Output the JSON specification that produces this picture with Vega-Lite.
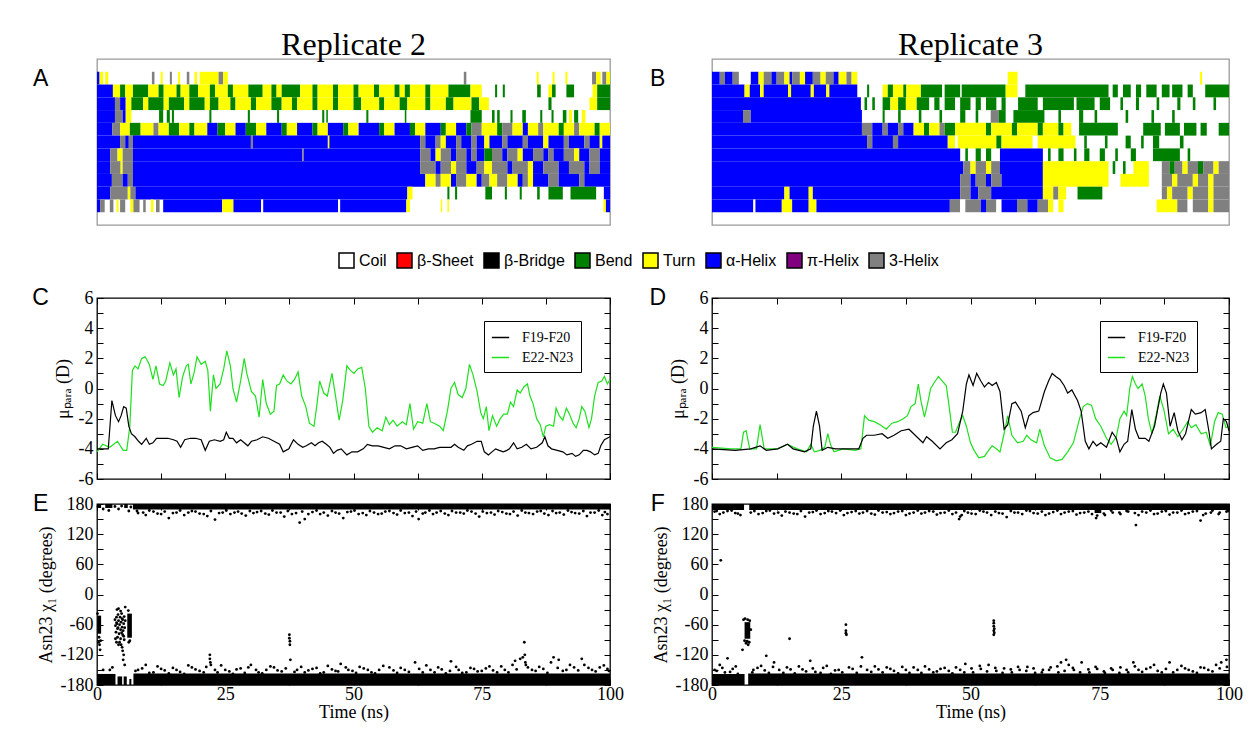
{
"$schema":"https://vega.github.io/schema/vega-lite/v6.json",
"background":"white",
"padding":{"left":31,"top":28,"right":5,"bottom":5},
"config":{
 "view":{"stroke":"black","strokeWidth":1.3},
 "axis":{"domain":false,"grid":false,"labelFont":"Liberation Serif","labelFontSize":18,"labelColor":"black","titleFont":"Liberation Serif","titleFontSize":18,"titleFontWeight":"normal","titleColor":"black","tickColor":"black","tickWidth":1,"labelOverlap":false,"labelFlush":false,"labelBound":false}
},
"datasets":{
"ss2":[
{"r":26,"a":0,"b":0.5,"s":"H"},{"r":26,"a":0.5,"b":1.2,"s":"T"},{"r":26,"a":1.6,"b":2.2,"s":"T"},{"r":26,"a":10.7,"b":11.2,"s":"G"},{"r":26,"a":12.4,"b":12.8,"s":"T"},{"r":26,"a":14.2,"b":14.6,"s":"G"},{"r":26,"a":15.8,"b":16.2,"s":"T"},{"r":26,"a":17.5,"b":18,"s":"G"},{"r":26,"a":19,"b":19.5,"s":"T"},{"r":26,"a":20,"b":23.7,"s":"T"},{"r":26,"a":23.7,"b":24.6,"s":"G"},{"r":26,"a":24.6,"b":25.5,"s":"T"},{"r":26,"a":71.5,"b":72,"s":"G"},{"r":26,"a":85.7,"b":86.1,"s":"T"},{"r":26,"a":88.8,"b":89.2,"s":"T"},{"r":26,"a":91.3,"b":91.7,"s":"T"},{"r":26,"a":96.5,"b":97.3,"s":"G"},{"r":26,"a":97.3,"b":98.2,"s":"T"},{"r":26,"a":98.5,"b":99.3,"s":"G"},{"r":26,"a":99.3,"b":100,"s":"T"},
{"r":25,"a":0,"b":3.1,"s":"H"},{"r":25,"a":3.1,"b":4.5,"s":"T"},{"r":25,"a":4.5,"b":5.5,"s":"S"},{"r":25,"a":5.5,"b":7,"s":"T"},{"r":25,"a":7,"b":10,"s":"S"},{"r":25,"a":10,"b":12,"s":"T"},{"r":25,"a":12,"b":13,"s":"S"},{"r":25,"a":13,"b":15.5,"s":"T"},{"r":25,"a":15.5,"b":16.3,"s":"S"},{"r":25,"a":16.3,"b":18,"s":"T"},{"r":25,"a":18,"b":19.7,"s":"S"},{"r":25,"a":19.7,"b":22,"s":"T"},{"r":25,"a":22,"b":23,"s":"S"},{"r":25,"a":23,"b":25.5,"s":"T"},{"r":25,"a":25.5,"b":26.5,"s":"S"},{"r":25,"a":26.5,"b":29.5,"s":"T"},{"r":25,"a":29.5,"b":32.3,"s":"S"},{"r":25,"a":32.3,"b":34,"s":"T"},{"r":25,"a":34,"b":35,"s":"S"},{"r":25,"a":35,"b":36,"s":"T"},{"r":25,"a":36,"b":39.6,"s":"S"},{"r":25,"a":39.6,"b":42,"s":"T"},{"r":25,"a":42,"b":43,"s":"S"},{"r":25,"a":43,"b":46,"s":"T"},{"r":25,"a":46,"b":47,"s":"S"},{"r":25,"a":47,"b":50,"s":"T"},{"r":25,"a":50,"b":51,"s":"S"},{"r":25,"a":51,"b":54,"s":"T"},{"r":25,"a":54,"b":55,"s":"S"},{"r":25,"a":55,"b":58,"s":"T"},{"r":25,"a":58,"b":59,"s":"S"},{"r":25,"a":59,"b":60,"s":"T"},{"r":25,"a":60,"b":61,"s":"S"},{"r":25,"a":61,"b":64,"s":"T"},{"r":25,"a":64,"b":65,"s":"S"},{"r":25,"a":65,"b":68.5,"s":"T"},{"r":25,"a":68.5,"b":72.8,"s":"S"},{"r":25,"a":72.8,"b":75,"s":"T"},{"r":25,"a":77.6,"b":78,"s":"S"},{"r":25,"a":79.1,"b":79.5,"s":"S"},{"r":25,"a":85.8,"b":86.5,"s":"S"},{"r":25,"a":88,"b":88.7,"s":"T"},{"r":25,"a":88.7,"b":89.4,"s":"S"},{"r":25,"a":91.5,"b":93,"s":"S"},{"r":25,"a":96.6,"b":97.5,"s":"T"},{"r":25,"a":97.5,"b":100,"s":"S"},
{"r":24,"a":0,"b":3.5,"s":"H"},{"r":24,"a":3.5,"b":4.5,"s":"G"},{"r":24,"a":4.5,"b":5.6,"s":"H"},{"r":24,"a":5.6,"b":6.7,"s":"T"},{"r":24,"a":6.7,"b":9,"s":"S"},{"r":24,"a":9,"b":10,"s":"T"},{"r":24,"a":10,"b":13,"s":"S"},{"r":24,"a":13,"b":14,"s":"T"},{"r":24,"a":14,"b":17,"s":"S"},{"r":24,"a":17,"b":18,"s":"T"},{"r":24,"a":18,"b":21,"s":"S"},{"r":24,"a":21,"b":22,"s":"T"},{"r":24,"a":22,"b":23.7,"s":"S"},{"r":24,"a":23.7,"b":26,"s":"T"},{"r":24,"a":26,"b":27,"s":"S"},{"r":24,"a":27,"b":30,"s":"T"},{"r":24,"a":30,"b":31,"s":"S"},{"r":24,"a":31,"b":34,"s":"T"},{"r":24,"a":34,"b":36,"s":"S"},{"r":24,"a":36,"b":38,"s":"T"},{"r":24,"a":38,"b":39,"s":"S"},{"r":24,"a":39,"b":42,"s":"T"},{"r":24,"a":42,"b":43,"s":"S"},{"r":24,"a":43,"b":46,"s":"T"},{"r":24,"a":46,"b":47,"s":"S"},{"r":24,"a":47,"b":50,"s":"T"},{"r":24,"a":50,"b":51.5,"s":"S"},{"r":24,"a":51.5,"b":55,"s":"T"},{"r":24,"a":55,"b":56,"s":"S"},{"r":24,"a":56,"b":59,"s":"T"},{"r":24,"a":59,"b":60.5,"s":"S"},{"r":24,"a":60.5,"b":64,"s":"T"},{"r":24,"a":64,"b":65,"s":"S"},{"r":24,"a":65,"b":68,"s":"T"},{"r":24,"a":68,"b":69.5,"s":"S"},{"r":24,"a":69.5,"b":73,"s":"T"},{"r":24,"a":73,"b":74.5,"s":"S"},{"r":24,"a":74.5,"b":76.4,"s":"T"},{"r":24,"a":88,"b":88.6,"s":"S"},{"r":24,"a":96,"b":97.5,"s":"T"},{"r":24,"a":97.5,"b":100,"s":"S"},
{"r":23,"a":0,"b":3.5,"s":"H"},{"r":23,"a":3.5,"b":5,"s":"G"},{"r":23,"a":5,"b":5.6,"s":"H"},{"r":23,"a":5.6,"b":6.7,"s":"T"},{"r":23,"a":12.1,"b":12.9,"s":"S"},{"r":23,"a":13.6,"b":14.2,"s":"S"},{"r":23,"a":14.6,"b":15,"s":"S"},{"r":23,"a":21.9,"b":22.3,"s":"S"},{"r":23,"a":29.4,"b":29.8,"s":"S"},{"r":23,"a":35.1,"b":35.5,"s":"S"},{"r":23,"a":43.9,"b":44.3,"s":"S"},{"r":23,"a":44.7,"b":45,"s":"S"},{"r":23,"a":52.5,"b":52.9,"s":"S"},{"r":23,"a":60,"b":60.3,"s":"S"},{"r":23,"a":72.8,"b":75,"s":"S"},{"r":23,"a":77,"b":77.5,"s":"S"},{"r":23,"a":78,"b":78.5,"s":"S"},{"r":23,"a":80.6,"b":81,"s":"S"},{"r":23,"a":82.9,"b":83.6,"s":"S"},{"r":23,"a":86.4,"b":86.8,"s":"S"},{"r":23,"a":88.6,"b":89,"s":"S"},{"r":23,"a":90.8,"b":91.5,"s":"S"},{"r":23,"a":92,"b":92.6,"s":"T"},{"r":23,"a":93,"b":93.8,"s":"S"},{"r":23,"a":94.5,"b":95.2,"s":"T"},
{"r":22,"a":0,"b":3,"s":"H"},{"r":22,"a":3,"b":4.5,"s":"G"},{"r":22,"a":4.5,"b":6.4,"s":"T"},{"r":22,"a":6.4,"b":8.5,"s":"S"},{"r":22,"a":8.5,"b":11,"s":"T"},{"r":22,"a":11,"b":12,"s":"G"},{"r":22,"a":12,"b":14,"s":"T"},{"r":22,"a":14,"b":16,"s":"S"},{"r":22,"a":16,"b":18,"s":"T"},{"r":22,"a":18,"b":19,"s":"S"},{"r":22,"a":19,"b":21.5,"s":"T"},{"r":22,"a":21.5,"b":23.5,"s":"H"},{"r":22,"a":23.5,"b":25,"s":"S"},{"r":22,"a":25,"b":27,"s":"T"},{"r":22,"a":27,"b":29,"s":"H"},{"r":22,"a":29,"b":31,"s":"S"},{"r":22,"a":31,"b":33,"s":"T"},{"r":22,"a":33,"b":36,"s":"H"},{"r":22,"a":36,"b":37,"s":"S"},{"r":22,"a":37,"b":39,"s":"T"},{"r":22,"a":39,"b":42,"s":"H"},{"r":22,"a":42,"b":43,"s":"S"},{"r":22,"a":43,"b":45,"s":"T"},{"r":22,"a":45,"b":48,"s":"H"},{"r":22,"a":48,"b":49,"s":"S"},{"r":22,"a":49,"b":51,"s":"T"},{"r":22,"a":51,"b":55,"s":"H"},{"r":22,"a":55,"b":56,"s":"S"},{"r":22,"a":56,"b":58,"s":"T"},{"r":22,"a":58,"b":61,"s":"H"},{"r":22,"a":61,"b":62,"s":"S"},{"r":22,"a":62,"b":64,"s":"T"},{"r":22,"a":64,"b":67,"s":"H"},{"r":22,"a":67,"b":68,"s":"S"},{"r":22,"a":68,"b":70,"s":"T"},{"r":22,"a":70,"b":72,"s":"H"},{"r":22,"a":72,"b":73,"s":"S"},{"r":22,"a":73,"b":75,"s":"G"},{"r":22,"a":75,"b":78,"s":"T"},{"r":22,"a":78,"b":79,"s":"S"},{"r":22,"a":79,"b":81,"s":"G"},{"r":22,"a":81,"b":83,"s":"T"},{"r":22,"a":83,"b":84,"s":"H"},{"r":22,"a":84,"b":86,"s":"T"},{"r":22,"a":86,"b":87,"s":"G"},{"r":22,"a":87,"b":90,"s":"T"},{"r":22,"a":90,"b":91,"s":"S"},{"r":22,"a":91,"b":93,"s":"T"},{"r":22,"a":93,"b":94,"s":"G"},{"r":22,"a":94,"b":97,"s":"T"},{"r":22,"a":97,"b":98,"s":"S"},{"r":22,"a":98,"b":100,"s":"T"},
{"r":21,"a":0,"b":4.5,"s":"H"},{"r":21,"a":4.5,"b":5.5,"s":"G"},{"r":21,"a":5.5,"b":6.2,"s":"H"},{"r":21,"a":6.2,"b":7,"s":"G"},{"r":21,"a":7,"b":30,"s":"H"},{"r":21,"a":30,"b":30.4,"s":"G"},{"r":21,"a":30.4,"b":45,"s":"H"},{"r":21,"a":45,"b":45.3,"s":"T"},{"r":21,"a":45.3,"b":63,"s":"H"},{"r":21,"a":63,"b":64,"s":"G"},{"r":21,"a":64,"b":66,"s":"H"},{"r":21,"a":66,"b":67,"s":"G"},{"r":21,"a":67,"b":68,"s":"T"},{"r":21,"a":68,"b":70,"s":"H"},{"r":21,"a":70,"b":71,"s":"G"},{"r":21,"a":71,"b":73,"s":"H"},{"r":21,"a":73,"b":74,"s":"G"},{"r":21,"a":74,"b":75.5,"s":"H"},{"r":21,"a":75.5,"b":76.5,"s":"T"},{"r":21,"a":76.5,"b":79,"s":"H"},{"r":21,"a":79,"b":80,"s":"G"},{"r":21,"a":80,"b":83,"s":"H"},{"r":21,"a":83,"b":84,"s":"G"},{"r":21,"a":84,"b":87,"s":"H"},{"r":21,"a":87,"b":88,"s":"T"},{"r":21,"a":88,"b":91,"s":"H"},{"r":21,"a":91,"b":92,"s":"G"},{"r":21,"a":92,"b":95,"s":"H"},{"r":21,"a":95,"b":96,"s":"G"},{"r":21,"a":96,"b":98,"s":"H"},{"r":21,"a":98,"b":98.5,"s":"T"},{"r":21,"a":98.5,"b":100,"s":"H"},
{"r":20,"a":0,"b":2.6,"s":"H"},{"r":20,"a":2.6,"b":4,"s":"G"},{"r":20,"a":4,"b":5,"s":"T"},{"r":20,"a":5,"b":7,"s":"G"},{"r":20,"a":7,"b":40,"s":"H"},{"r":20,"a":40,"b":40.3,"s":"G"},{"r":20,"a":40.3,"b":63,"s":"H"},{"r":20,"a":63,"b":65,"s":"G"},{"r":20,"a":65,"b":66,"s":"H"},{"r":20,"a":66,"b":67,"s":"T"},{"r":20,"a":67,"b":69,"s":"G"},{"r":20,"a":69,"b":70,"s":"H"},{"r":20,"a":70,"b":72,"s":"G"},{"r":20,"a":72,"b":73,"s":"H"},{"r":20,"a":73,"b":74,"s":"G"},{"r":20,"a":74,"b":75.5,"s":"H"},{"r":20,"a":75.5,"b":77,"s":"S"},{"r":20,"a":77,"b":79,"s":"G"},{"r":20,"a":79,"b":80,"s":"H"},{"r":20,"a":80,"b":82,"s":"G"},{"r":20,"a":82,"b":83,"s":"T"},{"r":20,"a":83,"b":85,"s":"H"},{"r":20,"a":85,"b":87,"s":"G"},{"r":20,"a":87,"b":88,"s":"H"},{"r":20,"a":88,"b":89,"s":"G"},{"r":20,"a":89,"b":91,"s":"H"},{"r":20,"a":91,"b":93,"s":"G"},{"r":20,"a":93,"b":94,"s":"T"},{"r":20,"a":94,"b":96,"s":"H"},{"r":20,"a":96,"b":98,"s":"G"},{"r":20,"a":98,"b":100,"s":"H"},
{"r":19,"a":0,"b":2.6,"s":"H"},{"r":19,"a":2.6,"b":4.6,"s":"G"},{"r":19,"a":4.6,"b":5,"s":"T"},{"r":19,"a":5,"b":7,"s":"G"},{"r":19,"a":7,"b":63,"s":"H"},{"r":19,"a":63,"b":66,"s":"G"},{"r":19,"a":66,"b":67,"s":"H"},{"r":19,"a":67,"b":69,"s":"G"},{"r":19,"a":69,"b":70,"s":"T"},{"r":19,"a":70,"b":72,"s":"G"},{"r":19,"a":72,"b":74,"s":"H"},{"r":19,"a":74,"b":75.5,"s":"G"},{"r":19,"a":75.5,"b":77,"s":"T"},{"r":19,"a":77,"b":80,"s":"G"},{"r":19,"a":80,"b":81,"s":"H"},{"r":19,"a":81,"b":84,"s":"G"},{"r":19,"a":84,"b":85,"s":"T"},{"r":19,"a":85,"b":87,"s":"H"},{"r":19,"a":87,"b":90,"s":"G"},{"r":19,"a":90,"b":92,"s":"H"},{"r":19,"a":92,"b":95,"s":"G"},{"r":19,"a":95,"b":96,"s":"H"},{"r":19,"a":96,"b":98,"s":"G"},{"r":19,"a":98,"b":100,"s":"H"},
{"r":18,"a":0,"b":2.9,"s":"H"},{"r":18,"a":2.9,"b":5,"s":"G"},{"r":18,"a":5,"b":6,"s":"H"},{"r":18,"a":6,"b":7,"s":"G"},{"r":18,"a":7,"b":64,"s":"H"},{"r":18,"a":64,"b":66,"s":"T"},{"r":18,"a":66,"b":67,"s":"G"},{"r":18,"a":67,"b":69,"s":"T"},{"r":18,"a":69,"b":70,"s":"H"},{"r":18,"a":70,"b":72,"s":"G"},{"r":18,"a":72,"b":74,"s":"T"},{"r":18,"a":74,"b":75,"s":"H"},{"r":18,"a":75,"b":76.5,"s":"G"},{"r":18,"a":76.5,"b":78,"s":"T"},{"r":18,"a":78,"b":80,"s":"G"},{"r":18,"a":80,"b":82,"s":"T"},{"r":18,"a":82,"b":83,"s":"H"},{"r":18,"a":83,"b":84,"s":"G"},{"r":18,"a":84,"b":85,"s":"T"},{"r":18,"a":85,"b":88,"s":"H"},{"r":18,"a":88,"b":90,"s":"G"},{"r":18,"a":90,"b":94,"s":"H"},{"r":18,"a":94,"b":95,"s":"G"},{"r":18,"a":95,"b":100,"s":"H"},
{"r":17,"a":0,"b":2.6,"s":"H"},{"r":17,"a":2.6,"b":6,"s":"G"},{"r":17,"a":6,"b":6.5,"s":"T"},{"r":17,"a":6.5,"b":7.5,"s":"G"},{"r":17,"a":7.5,"b":60.5,"s":"H"},{"r":17,"a":60.5,"b":61.5,"s":"T"},{"r":17,"a":68.3,"b":68.7,"s":"S"},{"r":17,"a":69.8,"b":70.2,"s":"S"},{"r":17,"a":75.7,"b":77,"s":"S"},{"r":17,"a":79.5,"b":79.9,"s":"S"},{"r":17,"a":82.4,"b":82.8,"s":"S"},{"r":17,"a":85.8,"b":86.3,"s":"S"},{"r":17,"a":88,"b":90.8,"s":"S"},{"r":17,"a":92.3,"b":97.3,"s":"S"},{"r":17,"a":98.8,"b":100,"s":"H"},
{"r":16,"a":0,"b":0.6,"s":"H"},{"r":16,"a":0.6,"b":1.5,"s":"G"},{"r":16,"a":2.5,"b":3.2,"s":"G"},{"r":16,"a":3.8,"b":4.2,"s":"T"},{"r":16,"a":4.5,"b":5.5,"s":"G"},{"r":16,"a":6.5,"b":7.1,"s":"T"},{"r":16,"a":7.1,"b":8.3,"s":"G"},{"r":16,"a":9,"b":9.5,"s":"G"},{"r":16,"a":10.5,"b":11,"s":"T"},{"r":16,"a":11.5,"b":12.2,"s":"G"},{"r":16,"a":12.9,"b":24.4,"s":"H"},{"r":16,"a":24.4,"b":26.6,"s":"T"},{"r":16,"a":26.6,"b":32,"s":"H"},{"r":16,"a":32,"b":32.4,"s":"C"},{"r":16,"a":32.4,"b":47,"s":"H"},{"r":16,"a":47,"b":47.4,"s":"C"},{"r":16,"a":47.4,"b":60.3,"s":"H"},{"r":16,"a":60.3,"b":61,"s":"T"},{"r":16,"a":67,"b":67.3,"s":"T"},{"r":16,"a":68.3,"b":68.6,"s":"T"},{"r":16,"a":98.7,"b":99.2,"s":"T"},{"r":16,"a":99.2,"b":100,"s":"H"}
],
"ss3":[
{"r":26,"a":0,"b":1.5,"s":"H"},{"r":26,"a":1.5,"b":2.5,"s":"G"},{"r":26,"a":2.5,"b":4,"s":"H"},{"r":26,"a":4,"b":5.2,"s":"G"},{"r":26,"a":7.5,"b":9,"s":"H"},{"r":26,"a":9,"b":10,"s":"T"},{"r":26,"a":10,"b":11.5,"s":"G"},{"r":26,"a":11.5,"b":12.5,"s":"H"},{"r":26,"a":12.5,"b":14,"s":"G"},{"r":26,"a":14,"b":15,"s":"T"},{"r":26,"a":15,"b":15.5,"s":"H"},{"r":26,"a":15.5,"b":17,"s":"G"},{"r":26,"a":17,"b":18,"s":"T"},{"r":26,"a":18,"b":19.5,"s":"H"},{"r":26,"a":19.5,"b":21,"s":"G"},{"r":26,"a":21,"b":22,"s":"T"},{"r":26,"a":22,"b":23.5,"s":"G"},{"r":26,"a":23.5,"b":24.5,"s":"H"},{"r":26,"a":24.5,"b":26,"s":"T"},{"r":26,"a":26,"b":27,"s":"G"},{"r":26,"a":27,"b":28.1,"s":"T"},{"r":26,"a":57.2,"b":59.1,"s":"T"},{"r":26,"a":94.4,"b":94.8,"s":"T"},
{"r":25,"a":0,"b":6.3,"s":"H"},{"r":25,"a":6.3,"b":7.3,"s":"T"},{"r":25,"a":7.3,"b":9.3,"s":"H"},{"r":25,"a":9.3,"b":10,"s":"T"},{"r":25,"a":10,"b":14.7,"s":"H"},{"r":25,"a":14.7,"b":15.3,"s":"T"},{"r":25,"a":15.3,"b":19.1,"s":"H"},{"r":25,"a":19.1,"b":19.7,"s":"T"},{"r":25,"a":19.7,"b":22.1,"s":"H"},{"r":25,"a":22.1,"b":22.7,"s":"T"},{"r":25,"a":22.7,"b":28.1,"s":"H"},{"r":25,"a":30,"b":30.4,"s":"S"},{"r":25,"a":33,"b":34,"s":"T"},{"r":25,"a":34,"b":35,"s":"S"},{"r":25,"a":35,"b":37,"s":"T"},{"r":25,"a":37,"b":37.6,"s":"S"},{"r":25,"a":37.6,"b":40.4,"s":"T"},{"r":25,"a":40.4,"b":44.5,"s":"S"},{"r":25,"a":45,"b":48,"s":"S"},{"r":25,"a":48.3,"b":56.8,"s":"S"},{"r":25,"a":56.8,"b":59.1,"s":"T"},{"r":25,"a":60.6,"b":76.7,"s":"S"},{"r":25,"a":77.5,"b":78.5,"s":"S"},{"r":25,"a":79.5,"b":81,"s":"S"},{"r":25,"a":82,"b":83,"s":"S"},{"r":25,"a":84,"b":86,"s":"S"},{"r":25,"a":87,"b":88.5,"s":"S"},{"r":25,"a":89,"b":91,"s":"S"},{"r":25,"a":92,"b":93,"s":"S"},{"r":25,"a":95.4,"b":100,"s":"S"},
{"r":24,"a":0,"b":28.8,"s":"H"},{"r":24,"a":29.5,"b":30,"s":"S"},{"r":24,"a":31,"b":31.5,"s":"S"},{"r":24,"a":33,"b":34.5,"s":"S"},{"r":24,"a":34.5,"b":36,"s":"T"},{"r":24,"a":36,"b":37.5,"s":"S"},{"r":24,"a":37.5,"b":39.6,"s":"T"},{"r":24,"a":39.6,"b":42,"s":"S"},{"r":24,"a":43,"b":44,"s":"S"},{"r":24,"a":45,"b":47,"s":"S"},{"r":24,"a":48,"b":50,"s":"S"},{"r":24,"a":51,"b":52,"s":"S"},{"r":24,"a":53,"b":55,"s":"S"},{"r":24,"a":56,"b":56.8,"s":"S"},{"r":24,"a":59.2,"b":63,"s":"S"},{"r":24,"a":64,"b":70,"s":"S"},{"r":24,"a":70.5,"b":74,"s":"S"},{"r":24,"a":75,"b":77,"s":"S"},{"r":24,"a":79,"b":79.5,"s":"S"},{"r":24,"a":82,"b":82.6,"s":"S"},{"r":24,"a":86,"b":86.5,"s":"S"},{"r":24,"a":90,"b":90.6,"s":"S"},{"r":24,"a":93,"b":93.5,"s":"S"},{"r":24,"a":97,"b":97.5,"s":"S"},
{"r":23,"a":0,"b":6,"s":"H"},{"r":23,"a":6,"b":7.5,"s":"G"},{"r":23,"a":7.5,"b":29,"s":"H"},{"r":23,"a":33,"b":33.4,"s":"S"},{"r":23,"a":36,"b":36.5,"s":"S"},{"r":23,"a":40,"b":40.5,"s":"S"},{"r":23,"a":44,"b":44.5,"s":"S"},{"r":23,"a":48,"b":49,"s":"S"},{"r":23,"a":51,"b":51.5,"s":"S"},{"r":23,"a":53.9,"b":55.5,"s":"G"},{"r":23,"a":55.5,"b":56.8,"s":"S"},{"r":23,"a":58.3,"b":64.3,"s":"S"},{"r":23,"a":67,"b":67.5,"s":"S"},{"r":23,"a":71,"b":71.8,"s":"S"},{"r":23,"a":74,"b":74.5,"s":"S"},{"r":23,"a":80,"b":80.5,"s":"S"},{"r":23,"a":85,"b":85.5,"s":"S"},{"r":23,"a":89,"b":89.5,"s":"S"},
{"r":22,"a":0,"b":29,"s":"H"},{"r":22,"a":29,"b":31,"s":"G"},{"r":22,"a":31,"b":33,"s":"H"},{"r":22,"a":33,"b":34,"s":"G"},{"r":22,"a":34,"b":36,"s":"H"},{"r":22,"a":36,"b":37,"s":"G"},{"r":22,"a":37,"b":39,"s":"H"},{"r":22,"a":39,"b":41,"s":"T"},{"r":22,"a":41,"b":42,"s":"S"},{"r":22,"a":42,"b":44,"s":"T"},{"r":22,"a":44,"b":45,"s":"G"},{"r":22,"a":45,"b":47,"s":"S"},{"r":22,"a":47,"b":53,"s":"T"},{"r":22,"a":53,"b":54,"s":"S"},{"r":22,"a":54,"b":58,"s":"T"},{"r":22,"a":58,"b":59,"s":"S"},{"r":22,"a":59,"b":63,"s":"T"},{"r":22,"a":63,"b":64,"s":"S"},{"r":22,"a":64,"b":67,"s":"T"},{"r":22,"a":67,"b":68,"s":"S"},{"r":22,"a":68,"b":69.5,"s":"T"},{"r":22,"a":71,"b":78.5,"s":"S"},{"r":22,"a":83.4,"b":86.8,"s":"S"},{"r":22,"a":87.6,"b":90.5,"s":"S"},{"r":22,"a":91.3,"b":93.7,"s":"S"},{"r":22,"a":94.5,"b":95.7,"s":"S"},{"r":22,"a":98,"b":100,"s":"S"},
{"r":21,"a":0,"b":30,"s":"H"},{"r":21,"a":30,"b":31,"s":"G"},{"r":21,"a":31,"b":35,"s":"H"},{"r":21,"a":35,"b":36,"s":"G"},{"r":21,"a":36,"b":45.6,"s":"H"},{"r":21,"a":45.6,"b":47,"s":"T"},{"r":21,"a":47.5,"b":55,"s":"T"},{"r":21,"a":55,"b":56,"s":"S"},{"r":21,"a":56,"b":62,"s":"T"},{"r":21,"a":63,"b":70.3,"s":"T"},{"r":21,"a":72,"b":72.5,"s":"S"},{"r":21,"a":76,"b":76.5,"s":"S"},{"r":21,"a":80,"b":81,"s":"S"},{"r":21,"a":83,"b":83.5,"s":"S"},{"r":21,"a":85.3,"b":86.5,"s":"S"},{"r":21,"a":90.5,"b":91.2,"s":"S"},
{"r":20,"a":0,"b":48,"s":"H"},{"r":20,"a":49,"b":49.5,"s":"S"},{"r":20,"a":51,"b":52,"s":"S"},{"r":20,"a":53,"b":54,"s":"S"},{"r":20,"a":55.7,"b":64,"s":"H"},{"r":20,"a":65,"b":65.5,"s":"S"},{"r":20,"a":67,"b":68,"s":"S"},{"r":20,"a":70,"b":70.5,"s":"S"},{"r":20,"a":72,"b":73,"s":"S"},{"r":20,"a":75,"b":76,"s":"S"},{"r":20,"a":78,"b":78.5,"s":"S"},{"r":20,"a":81,"b":82,"s":"S"},{"r":20,"a":85.3,"b":90.5,"s":"S"},{"r":20,"a":92,"b":92.5,"s":"S"},
{"r":19,"a":0,"b":48.6,"s":"H"},{"r":19,"a":48.6,"b":50,"s":"G"},{"r":19,"a":50,"b":51,"s":"T"},{"r":19,"a":51,"b":53,"s":"G"},{"r":19,"a":53,"b":54,"s":"T"},{"r":19,"a":54,"b":55.7,"s":"G"},{"r":19,"a":55.7,"b":64,"s":"H"},{"r":19,"a":64,"b":76.7,"s":"T"},{"r":19,"a":77.5,"b":78,"s":"S"},{"r":19,"a":79.5,"b":80,"s":"S"},{"r":19,"a":81.5,"b":84.5,"s":"T"},{"r":19,"a":87,"b":88.5,"s":"G"},{"r":19,"a":88.5,"b":89.5,"s":"S"},{"r":19,"a":89.5,"b":91,"s":"G"},{"r":19,"a":91,"b":92,"s":"T"},{"r":19,"a":92,"b":94,"s":"G"},{"r":19,"a":94,"b":95,"s":"S"},{"r":19,"a":95,"b":97,"s":"G"},{"r":19,"a":97,"b":98,"s":"T"},{"r":19,"a":98,"b":100,"s":"G"},
{"r":18,"a":0,"b":48,"s":"H"},{"r":18,"a":48,"b":50,"s":"G"},{"r":18,"a":50,"b":51,"s":"H"},{"r":18,"a":51,"b":53,"s":"G"},{"r":18,"a":53,"b":54,"s":"H"},{"r":18,"a":54,"b":56,"s":"G"},{"r":18,"a":56,"b":64,"s":"H"},{"r":18,"a":64,"b":76.7,"s":"T"},{"r":18,"a":79,"b":84.5,"s":"T"},{"r":18,"a":87,"b":89,"s":"G"},{"r":18,"a":89,"b":90,"s":"T"},{"r":18,"a":90,"b":93,"s":"G"},{"r":18,"a":93,"b":94,"s":"T"},{"r":18,"a":94,"b":96,"s":"G"},{"r":18,"a":96,"b":97,"s":"T"},{"r":18,"a":97,"b":100,"s":"G"},
{"r":17,"a":0,"b":14,"s":"H"},{"r":17,"a":14,"b":15,"s":"T"},{"r":17,"a":15,"b":18.7,"s":"H"},{"r":17,"a":18.7,"b":19.5,"s":"T"},{"r":17,"a":19.5,"b":48,"s":"H"},{"r":17,"a":48,"b":50,"s":"G"},{"r":17,"a":50,"b":51.5,"s":"H"},{"r":17,"a":51.5,"b":54,"s":"G"},{"r":17,"a":54,"b":64,"s":"H"},{"r":17,"a":64,"b":66,"s":"T"},{"r":17,"a":66,"b":67,"s":"G"},{"r":17,"a":67,"b":68.5,"s":"T"},{"r":17,"a":70.7,"b":75.5,"s":"S"},{"r":17,"a":87,"b":88,"s":"G"},{"r":17,"a":88,"b":89,"s":"T"},{"r":17,"a":89,"b":92,"s":"G"},{"r":17,"a":92,"b":93,"s":"T"},{"r":17,"a":93,"b":96,"s":"G"},{"r":17,"a":96,"b":97,"s":"T"},{"r":17,"a":97,"b":100,"s":"G"},
{"r":16,"a":0,"b":8,"s":"H"},{"r":16,"a":8,"b":8.4,"s":"C"},{"r":16,"a":8.4,"b":13.5,"s":"H"},{"r":16,"a":13.5,"b":15.5,"s":"T"},{"r":16,"a":15.5,"b":18.7,"s":"H"},{"r":16,"a":18.7,"b":20.2,"s":"T"},{"r":16,"a":20.2,"b":46,"s":"H"},{"r":16,"a":46,"b":48,"s":"G"},{"r":16,"a":48,"b":49,"s":"C"},{"r":16,"a":49,"b":52,"s":"G"},{"r":16,"a":52,"b":53,"s":"H"},{"r":16,"a":53,"b":55,"s":"G"},{"r":16,"a":55,"b":56,"s":"C"},{"r":16,"a":56,"b":59,"s":"H"},{"r":16,"a":59,"b":61,"s":"G"},{"r":16,"a":61,"b":63,"s":"H"},{"r":16,"a":63,"b":65,"s":"G"},{"r":16,"a":65,"b":66,"s":"T"},{"r":16,"a":67,"b":68,"s":"T"},{"r":16,"a":86,"b":90,"s":"T"},{"r":16,"a":90,"b":92,"s":"G"},{"r":16,"a":92,"b":93,"s":"C"},{"r":16,"a":93,"b":96,"s":"G"},{"r":16,"a":96,"b":97,"s":"T"},{"r":16,"a":97,"b":100,"s":"G"}
],
"d2":[
{"t":0,"v":-4.2,"k":"E"},{"t":1.1,"v":-3.7,"k":"E"},{"t":2.5,"v":-3.9,"k":"E"},{"t":4,"v":-3.5,"k":"E"},{"t":5.1,"v":-4.1,"k":"E"},{"t":5.8,"v":-4.1,"k":"E"},{"t":6.4,"v":-2.5,"k":"E"},{"t":6.9,"v":1.2,"k":"E"},{"t":7.4,"v":1.5,"k":"E"},{"t":8,"v":1.3,"k":"E"},{"t":8.7,"v":2,"k":"E"},{"t":9.4,"v":2.1,"k":"E"},{"t":10.2,"v":1.6,"k":"E"},{"t":10.9,"v":0.6,"k":"E"},{"t":11.5,"v":1.5,"k":"E"},{"t":12.2,"v":0.3,"k":"E"},{"t":12.9,"v":0.2,"k":"E"},{"t":13.4,"v":0.5,"k":"E"},{"t":14.2,"v":1.7,"k":"E"},{"t":14.9,"v":0.9,"k":"E"},{"t":15.4,"v":1.3,"k":"E"},{"t":16,"v":-0.6,"k":"E"},{"t":16.7,"v":0.8,"k":"E"},{"t":17.4,"v":1.5,"k":"E"},{"t":17.8,"v":1.6,"k":"E"},{"t":18.3,"v":0.3,"k":"E"},{"t":18.9,"v":1,"k":"E"},{"t":19.5,"v":2.1,"k":"E"},{"t":20.3,"v":1.6,"k":"E"},{"t":21.1,"v":1.8,"k":"E"},{"t":21.6,"v":1.2,"k":"E"},{"t":22.1,"v":-1.5,"k":"E"},{"t":22.7,"v":0.9,"k":"E"},{"t":23.2,"v":0,"k":"E"},{"t":24,"v":0.3,"k":"E"},{"t":24.7,"v":1.3,"k":"E"},{"t":25.3,"v":2.5,"k":"E"},{"t":26,"v":1.5,"k":"E"},{"t":26.5,"v":0,"k":"E"},{"t":27.2,"v":-0.9,"k":"E"},{"t":28,"v":0.5,"k":"E"},{"t":28.7,"v":2,"k":"E"},{"t":29.2,"v":1,"k":"E"},{"t":30.1,"v":-0.2,"k":"E"},{"t":30.9,"v":-0.5,"k":"E"},{"t":31.6,"v":-1.9,"k":"E"},{"t":32.3,"v":0.6,"k":"E"},{"t":33,"v":-1,"k":"E"},{"t":33.8,"v":-1.7,"k":"E"},{"t":34.5,"v":-1.5,"k":"E"},{"t":35,"v":0.2,"k":"E"},{"t":35.6,"v":0.3,"k":"E"},{"t":36.3,"v":0.9,"k":"E"},{"t":37,"v":0.5,"k":"E"},{"t":37.8,"v":0.3,"k":"E"},{"t":38.5,"v":0.6,"k":"E"},{"t":39.2,"v":1.1,"k":"E"},{"t":39.9,"v":-0.5,"k":"E"},{"t":40.7,"v":-1.2,"k":"E"},{"t":41.4,"v":-2.3,"k":"E"},{"t":42.3,"v":-2.5,"k":"E"},{"t":42.9,"v":-1,"k":"E"},{"t":43.4,"v":0.5,"k":"E"},{"t":44.2,"v":-0.3,"k":"E"},{"t":44.9,"v":-0.5,"k":"E"},{"t":45.8,"v":1,"k":"E"},{"t":46.5,"v":-0.5,"k":"E"},{"t":47.2,"v":-2.1,"k":"E"},{"t":47.9,"v":-0.8,"k":"E"},{"t":48.7,"v":1.5,"k":"E"},{"t":49.4,"v":1.2,"k":"E"},{"t":50.1,"v":1,"k":"E"},{"t":50.8,"v":1.3,"k":"E"},{"t":51.6,"v":1.4,"k":"E"},{"t":52.3,"v":0,"k":"E"},{"t":53,"v":-2.5,"k":"E"},{"t":53.7,"v":-2.9,"k":"E"},{"t":54.6,"v":-2.6,"k":"E"},{"t":55.6,"v":-2.8,"k":"E"},{"t":56.3,"v":-1.9,"k":"E"},{"t":57,"v":-2.4,"k":"E"},{"t":57.7,"v":-2.1,"k":"E"},{"t":58.5,"v":-2.5,"k":"E"},{"t":59.5,"v":-2.2,"k":"E"},{"t":60.3,"v":-2.4,"k":"E"},{"t":61,"v":-1,"k":"E"},{"t":61.7,"v":-2.7,"k":"E"},{"t":62.5,"v":-2.2,"k":"E"},{"t":63.5,"v":-2.3,"k":"E"},{"t":64.3,"v":-1,"k":"E"},{"t":65,"v":-2.2,"k":"E"},{"t":65.7,"v":-2.3,"k":"E"},{"t":66.8,"v":-2.5,"k":"E"},{"t":67.5,"v":-2.8,"k":"E"},{"t":68.3,"v":-1.5,"k":"E"},{"t":69,"v":0,"k":"E"},{"t":69.7,"v":0.4,"k":"E"},{"t":70.4,"v":-0.4,"k":"E"},{"t":71.2,"v":-0.6,"k":"E"},{"t":71.9,"v":0,"k":"E"},{"t":72.6,"v":1.6,"k":"E"},{"t":73.3,"v":0.9,"k":"E"},{"t":74.1,"v":-0.2,"k":"E"},{"t":74.8,"v":-1.6,"k":"E"},{"t":75.3,"v":-2,"k":"E"},{"t":75.9,"v":-1.2,"k":"E"},{"t":76.4,"v":-2.8,"k":"E"},{"t":77.1,"v":-1.8,"k":"E"},{"t":77.9,"v":-2.5,"k":"E"},{"t":78.6,"v":-2,"k":"E"},{"t":79.3,"v":-1.7,"k":"E"},{"t":80,"v":-1.7,"k":"E"},{"t":80.6,"v":-0.9,"k":"E"},{"t":81.2,"v":-1.2,"k":"E"},{"t":81.9,"v":-0.1,"k":"E"},{"t":82.5,"v":-0.3,"k":"E"},{"t":83.2,"v":0.1,"k":"E"},{"t":83.9,"v":0.3,"k":"E"},{"t":84.4,"v":-0.5,"k":"E"},{"t":85,"v":-1,"k":"E"},{"t":85.7,"v":-2,"k":"E"},{"t":86.4,"v":-2.4,"k":"E"},{"t":87,"v":-3.2,"k":"E"},{"t":87.5,"v":-2.5,"k":"E"},{"t":88.2,"v":-2.4,"k":"E"},{"t":89,"v":-2.5,"k":"E"},{"t":89.5,"v":-1.3,"k":"E"},{"t":90.1,"v":-1.8,"k":"E"},{"t":90.8,"v":-2.1,"k":"E"},{"t":91.5,"v":-1.3,"k":"E"},{"t":92.1,"v":-1.7,"k":"E"},{"t":92.8,"v":-2.3,"k":"E"},{"t":93.4,"v":-2.6,"k":"E"},{"t":94,"v":-2,"k":"E"},{"t":94.5,"v":-1.2,"k":"E"},{"t":95.1,"v":-1.5,"k":"E"},{"t":95.9,"v":-2.6,"k":"E"},{"t":96.4,"v":-2,"k":"E"},{"t":97,"v":-0.5,"k":"E"},{"t":97.7,"v":0.4,"k":"E"},{"t":98.4,"v":0.5,"k":"E"},{"t":98.9,"v":0.8,"k":"E"},{"t":99.5,"v":0.3,"k":"E"},{"t":100,"v":0.6,"k":"E"},
{"t":0,"v":-4,"k":"F"},{"t":1.5,"v":-4,"k":"F"},{"t":2.2,"v":-4,"k":"F"},{"t":2.9,"v":-0.8,"k":"F"},{"t":3.6,"v":-1.8,"k":"F"},{"t":4.2,"v":-2.2,"k":"F"},{"t":4.7,"v":-1.8,"k":"F"},{"t":5.2,"v":-1.2,"k":"F"},{"t":5.7,"v":-1.3,"k":"F"},{"t":6.2,"v":-2.5,"k":"F"},{"t":6.7,"v":-3,"k":"F"},{"t":7.4,"v":-3.2,"k":"F"},{"t":8.1,"v":-3.5,"k":"F"},{"t":8.7,"v":-3.7,"k":"F"},{"t":9.6,"v":-3.3,"k":"F"},{"t":10.2,"v":-3.7,"k":"F"},{"t":10.9,"v":-3.6,"k":"F"},{"t":11.6,"v":-3.3,"k":"F"},{"t":12.7,"v":-3.3,"k":"F"},{"t":13.8,"v":-3.3,"k":"F"},{"t":14.9,"v":-3.4,"k":"F"},{"t":15.6,"v":-3.5,"k":"F"},{"t":16.3,"v":-3.9,"k":"F"},{"t":17.1,"v":-3.4,"k":"F"},{"t":18.2,"v":-3.3,"k":"F"},{"t":19.2,"v":-3.3,"k":"F"},{"t":20.3,"v":-3.4,"k":"F"},{"t":21.1,"v":-4.1,"k":"F"},{"t":21.9,"v":-3.5,"k":"F"},{"t":22.9,"v":-3.4,"k":"F"},{"t":24,"v":-3.5,"k":"F"},{"t":24.7,"v":-3.4,"k":"F"},{"t":25.2,"v":-2.9,"k":"F"},{"t":25.8,"v":-3.3,"k":"F"},{"t":26.5,"v":-3.3,"k":"F"},{"t":27.2,"v":-3.6,"k":"F"},{"t":28,"v":-3.4,"k":"F"},{"t":28.7,"v":-3.6,"k":"F"},{"t":29.4,"v":-3.8,"k":"F"},{"t":30.1,"v":-3.5,"k":"F"},{"t":31.2,"v":-3.4,"k":"F"},{"t":32.3,"v":-3.2,"k":"F"},{"t":33.4,"v":-3.3,"k":"F"},{"t":34.5,"v":-3.5,"k":"F"},{"t":35.6,"v":-3.7,"k":"F"},{"t":36.3,"v":-4.2,"k":"F"},{"t":37.4,"v":-4,"k":"F"},{"t":38.3,"v":-3.4,"k":"F"},{"t":39.2,"v":-3.7,"k":"F"},{"t":40.1,"v":-3.9,"k":"F"},{"t":40.8,"v":-3.8,"k":"F"},{"t":41.8,"v":-3.6,"k":"F"},{"t":42.5,"v":-3.8,"k":"F"},{"t":43.2,"v":-3.6,"k":"F"},{"t":43.9,"v":-3.5,"k":"F"},{"t":44.7,"v":-3.7,"k":"F"},{"t":45.4,"v":-3.9,"k":"F"},{"t":46.1,"v":-4.3,"k":"F"},{"t":46.8,"v":-4.1,"k":"F"},{"t":47.6,"v":-4,"k":"F"},{"t":48.7,"v":-4.4,"k":"F"},{"t":49.7,"v":-4.2,"k":"F"},{"t":50.8,"v":-4.2,"k":"F"},{"t":51.9,"v":-4,"k":"F"},{"t":52.7,"v":-3.7,"k":"F"},{"t":53.7,"v":-3.8,"k":"F"},{"t":54.8,"v":-3.8,"k":"F"},{"t":55.9,"v":-3.9,"k":"F"},{"t":57,"v":-4,"k":"F"},{"t":58.1,"v":-3.8,"k":"F"},{"t":59.2,"v":-3.8,"k":"F"},{"t":60.3,"v":-4,"k":"F"},{"t":61.4,"v":-3.9,"k":"F"},{"t":62.5,"v":-3.8,"k":"F"},{"t":63.5,"v":-4.1,"k":"F"},{"t":64.6,"v":-4,"k":"F"},{"t":65.7,"v":-4,"k":"F"},{"t":66.8,"v":-3.9,"k":"F"},{"t":67.9,"v":-3.9,"k":"F"},{"t":69,"v":-3.9,"k":"F"},{"t":69.7,"v":-3.7,"k":"F"},{"t":70.4,"v":-3.9,"k":"F"},{"t":71.5,"v":-4.1,"k":"F"},{"t":72.2,"v":-3.8,"k":"F"},{"t":73,"v":-3.7,"k":"F"},{"t":74.1,"v":-3.5,"k":"F"},{"t":74.9,"v":-3.5,"k":"F"},{"t":75.5,"v":-4.2,"k":"F"},{"t":76.3,"v":-4.4,"k":"F"},{"t":77,"v":-4.2,"k":"F"},{"t":77.7,"v":-4,"k":"F"},{"t":78.4,"v":-4.1,"k":"F"},{"t":79.2,"v":-4.2,"k":"F"},{"t":79.9,"v":-4.1,"k":"F"},{"t":80.4,"v":-4,"k":"F"},{"t":81.2,"v":-3.6,"k":"F"},{"t":81.9,"v":-4,"k":"F"},{"t":82.8,"v":-3.9,"k":"F"},{"t":83.7,"v":-3.7,"k":"F"},{"t":84.6,"v":-4,"k":"F"},{"t":85.7,"v":-3.9,"k":"F"},{"t":86.8,"v":-3.6,"k":"F"},{"t":87.3,"v":-3.2,"k":"F"},{"t":87.9,"v":-3.8,"k":"F"},{"t":88.6,"v":-4,"k":"F"},{"t":89.7,"v":-4.1,"k":"F"},{"t":90.8,"v":-4.2,"k":"F"},{"t":91.6,"v":-4.4,"k":"F"},{"t":92.6,"v":-4.3,"k":"F"},{"t":93.3,"v":-4.5,"k":"F"},{"t":94,"v":-4.4,"k":"F"},{"t":94.8,"v":-4.1,"k":"F"},{"t":95.5,"v":-4.1,"k":"F"},{"t":96.2,"v":-4.2,"k":"F"},{"t":97,"v":-4.4,"k":"F"},{"t":97.7,"v":-4.3,"k":"F"},{"t":98.2,"v":-3.8,"k":"F"},{"t":98.9,"v":-3.4,"k":"F"},{"t":100,"v":-3.2,"k":"F"}
],
"d3":[
{"t":0,"v":-3.9,"k":"E"},{"t":3.7,"v":-4,"k":"E"},{"t":5.6,"v":-4,"k":"E"},{"t":6.1,"v":-2.9,"k":"E"},{"t":6.6,"v":-2.8,"k":"E"},{"t":7.3,"v":-4,"k":"E"},{"t":8.6,"v":-4,"k":"E"},{"t":9.3,"v":-2.4,"k":"E"},{"t":10.1,"v":-4,"k":"E"},{"t":12.7,"v":-4,"k":"E"},{"t":14.6,"v":-3.7,"k":"E"},{"t":16.5,"v":-4,"k":"E"},{"t":18.3,"v":-4.2,"k":"E"},{"t":19.1,"v":-3.7,"k":"E"},{"t":19.8,"v":-4.2,"k":"E"},{"t":20.9,"v":-4.1,"k":"E"},{"t":21.8,"v":-3.9,"k":"E"},{"t":22.4,"v":-3,"k":"E"},{"t":23,"v":-3.8,"k":"E"},{"t":23.6,"v":-4.2,"k":"E"},{"t":25.4,"v":-4,"k":"E"},{"t":27.7,"v":-4.1,"k":"E"},{"t":28.8,"v":-4,"k":"E"},{"t":29.5,"v":-1.8,"k":"E"},{"t":30.3,"v":-2.1,"k":"E"},{"t":31.4,"v":-2.2,"k":"E"},{"t":32.5,"v":-2.4,"k":"E"},{"t":33.7,"v":-2.7,"k":"E"},{"t":34.8,"v":-2.3,"k":"E"},{"t":35.9,"v":-2.2,"k":"E"},{"t":37,"v":-2,"k":"E"},{"t":37.8,"v":-1.8,"k":"E"},{"t":38.5,"v":-1.2,"k":"E"},{"t":39.3,"v":-1,"k":"E"},{"t":39.9,"v":0.3,"k":"E"},{"t":40.4,"v":-0.8,"k":"E"},{"t":41.1,"v":-1.9,"k":"E"},{"t":41.7,"v":-1,"k":"E"},{"t":42.3,"v":0,"k":"E"},{"t":43,"v":0.4,"k":"E"},{"t":43.8,"v":0.8,"k":"E"},{"t":44.5,"v":0.5,"k":"E"},{"t":45.3,"v":0.2,"k":"E"},{"t":45.8,"v":-1,"k":"E"},{"t":46.5,"v":-2.9,"k":"E"},{"t":47.1,"v":-2.9,"k":"E"},{"t":47.9,"v":-2.2,"k":"E"},{"t":48.5,"v":-1.8,"k":"E"},{"t":49.2,"v":-2.5,"k":"E"},{"t":50,"v":-3.6,"k":"E"},{"t":50.7,"v":-4.1,"k":"E"},{"t":51.6,"v":-4.6,"k":"E"},{"t":52.7,"v":-4.5,"k":"E"},{"t":53.5,"v":-4.1,"k":"E"},{"t":54.2,"v":-3.8,"k":"E"},{"t":55,"v":-4,"k":"E"},{"t":55.7,"v":-4.2,"k":"E"},{"t":56.5,"v":-3,"k":"E"},{"t":57.2,"v":-1.8,"k":"E"},{"t":58,"v":-3.1,"k":"E"},{"t":59.1,"v":-3.6,"k":"E"},{"t":60.2,"v":-3.5,"k":"E"},{"t":60.9,"v":-3.1,"k":"E"},{"t":61.7,"v":-3.4,"k":"E"},{"t":62.8,"v":-3.6,"k":"E"},{"t":63.4,"v":-2.7,"k":"E"},{"t":64.3,"v":-3.8,"k":"E"},{"t":65.4,"v":-4.6,"k":"E"},{"t":66.6,"v":-4.8,"k":"E"},{"t":67.7,"v":-4.7,"k":"E"},{"t":68.8,"v":-4.2,"k":"E"},{"t":69.9,"v":-3.6,"k":"E"},{"t":71.1,"v":-2,"k":"E"},{"t":71.8,"v":-1.2,"k":"E"},{"t":72.6,"v":-1,"k":"E"},{"t":73.4,"v":-1.1,"k":"E"},{"t":74.2,"v":-2,"k":"E"},{"t":75.2,"v":-2.5,"k":"E"},{"t":76.3,"v":-3.3,"k":"E"},{"t":77.2,"v":-3.7,"k":"E"},{"t":78.2,"v":-3.2,"k":"E"},{"t":78.9,"v":-2,"k":"E"},{"t":79.7,"v":-1.5,"k":"E"},{"t":80.2,"v":-1.8,"k":"E"},{"t":80.8,"v":0,"k":"E"},{"t":81.3,"v":0.8,"k":"E"},{"t":81.9,"v":0.3,"k":"E"},{"t":82.4,"v":0,"k":"E"},{"t":83.2,"v":0.3,"k":"E"},{"t":83.8,"v":-0.5,"k":"E"},{"t":84.4,"v":-2,"k":"E"},{"t":85.1,"v":-3,"k":"E"},{"t":85.9,"v":-1.8,"k":"E"},{"t":86.6,"v":-0.5,"k":"E"},{"t":87.4,"v":-1.4,"k":"E"},{"t":88.3,"v":-3,"k":"E"},{"t":89.2,"v":-2.7,"k":"E"},{"t":90.1,"v":-3.2,"k":"E"},{"t":91.1,"v":-2.7,"k":"E"},{"t":92,"v":-2.2,"k":"E"},{"t":92.7,"v":-2.6,"k":"E"},{"t":93.6,"v":-2.4,"k":"E"},{"t":94.6,"v":-3,"k":"E"},{"t":95.6,"v":-2.9,"k":"E"},{"t":96.4,"v":-3.8,"k":"E"},{"t":97.2,"v":-2.2,"k":"E"},{"t":97.9,"v":-1.6,"k":"E"},{"t":98.7,"v":-1.7,"k":"E"},{"t":99.4,"v":-2.6,"k":"E"},{"t":100,"v":-2.5,"k":"E"},
{"t":0,"v":-4,"k":"F"},{"t":4.5,"v":-4.1,"k":"F"},{"t":7.5,"v":-4,"k":"F"},{"t":9.3,"v":-3.8,"k":"F"},{"t":10.5,"v":-4.1,"k":"F"},{"t":12.7,"v":-4,"k":"F"},{"t":14.6,"v":-3.7,"k":"F"},{"t":15.7,"v":-4,"k":"F"},{"t":17.9,"v":-4.2,"k":"F"},{"t":19.1,"v":-4,"k":"F"},{"t":19.6,"v":-2.5,"k":"F"},{"t":20.2,"v":-1.5,"k":"F"},{"t":20.8,"v":-2.5,"k":"F"},{"t":21.3,"v":-4.1,"k":"F"},{"t":22.4,"v":-3.9,"k":"F"},{"t":23.9,"v":-4,"k":"F"},{"t":26.2,"v":-4,"k":"F"},{"t":28.4,"v":-4,"k":"F"},{"t":29.2,"v":-3.3,"k":"F"},{"t":29.9,"v":-3.1,"k":"F"},{"t":31.4,"v":-3.1,"k":"F"},{"t":32.9,"v":-3,"k":"F"},{"t":34,"v":-3.3,"k":"F"},{"t":35.2,"v":-3.1,"k":"F"},{"t":36.6,"v":-2.8,"k":"F"},{"t":38.1,"v":-2.7,"k":"F"},{"t":39.6,"v":-3.2,"k":"F"},{"t":40.8,"v":-3.6,"k":"F"},{"t":41.5,"v":-3.2,"k":"F"},{"t":42.6,"v":-3.5,"k":"F"},{"t":44.1,"v":-4,"k":"F"},{"t":45.3,"v":-3.6,"k":"F"},{"t":46.4,"v":-3.4,"k":"F"},{"t":47.5,"v":-3,"k":"F"},{"t":48.5,"v":-1.5,"k":"F"},{"t":49.2,"v":0.3,"k":"F"},{"t":49.7,"v":0.9,"k":"F"},{"t":50.5,"v":0.2,"k":"F"},{"t":51.2,"v":1,"k":"F"},{"t":52,"v":0.5,"k":"F"},{"t":52.7,"v":0.1,"k":"F"},{"t":53.5,"v":0.4,"k":"F"},{"t":54.2,"v":0.2,"k":"F"},{"t":55,"v":0.4,"k":"F"},{"t":55.7,"v":-0.2,"k":"F"},{"t":56.5,"v":-2.7,"k":"F"},{"t":57.2,"v":-2.4,"k":"F"},{"t":58,"v":-1,"k":"F"},{"t":58.7,"v":-0.9,"k":"F"},{"t":59.8,"v":-1.5,"k":"F"},{"t":60.6,"v":-2.6,"k":"F"},{"t":61.3,"v":-1.8,"k":"F"},{"t":62.1,"v":-1.6,"k":"F"},{"t":63.2,"v":-1.5,"k":"F"},{"t":64.3,"v":-0.2,"k":"F"},{"t":65.1,"v":0.5,"k":"F"},{"t":65.8,"v":1,"k":"F"},{"t":66.5,"v":0.8,"k":"F"},{"t":67.3,"v":0.6,"k":"F"},{"t":68.1,"v":0.2,"k":"F"},{"t":68.8,"v":-0.3,"k":"F"},{"t":69.6,"v":-0.1,"k":"F"},{"t":70.7,"v":-0.8,"k":"F"},{"t":71.4,"v":-1.5,"k":"F"},{"t":72.2,"v":-3.5,"k":"F"},{"t":72.9,"v":-4,"k":"F"},{"t":73.7,"v":-3.5,"k":"F"},{"t":74.4,"v":-3.8,"k":"F"},{"t":75.2,"v":-3.6,"k":"F"},{"t":76.3,"v":-3.9,"k":"F"},{"t":77.4,"v":-2.9,"k":"F"},{"t":78.2,"v":-3.3,"k":"F"},{"t":78.9,"v":-4.2,"k":"F"},{"t":79.7,"v":-3.7,"k":"F"},{"t":80.4,"v":-3.5,"k":"F"},{"t":81.2,"v":-1.4,"k":"F"},{"t":81.9,"v":-2.7,"k":"F"},{"t":82.6,"v":-3.3,"k":"F"},{"t":83.8,"v":-3.3,"k":"F"},{"t":84.5,"v":-3.5,"k":"F"},{"t":85.6,"v":-2.5,"k":"F"},{"t":86.8,"v":-0.3,"k":"F"},{"t":87.3,"v":0.3,"k":"F"},{"t":87.9,"v":-0.3,"k":"F"},{"t":88.6,"v":-2.5,"k":"F"},{"t":89.4,"v":-1.6,"k":"F"},{"t":90.1,"v":-2.8,"k":"F"},{"t":90.9,"v":-3.4,"k":"F"},{"t":91.6,"v":-3,"k":"F"},{"t":92.7,"v":-1.4,"k":"F"},{"t":93.5,"v":-1.7,"k":"F"},{"t":94.6,"v":-1.6,"k":"F"},{"t":95.4,"v":-1.4,"k":"F"},{"t":96.1,"v":-2.8,"k":"F"},{"t":96.6,"v":-4,"k":"F"},{"t":97.6,"v":-3.7,"k":"F"},{"t":98.4,"v":-3.5,"k":"F"},{"t":98.9,"v":-2,"k":"F"},{"t":99.5,"v":-2.2,"k":"F"},{"t":100,"v":-2.8,"k":"F"}
],
"b2":[
{"a":0,"b":0.8,"lo":172,"hi":180},{"a":1.6,"b":3,"lo":172,"hi":180},{"a":5.3,"b":6,"lo":172,"hi":180},{"a":7,"b":100,"lo":169,"hi":180},
{"a":0,"b":3.6,"lo":-180,"hi":-158},{"a":4,"b":4.9,"lo":-180,"hi":-163},{"a":5.2,"b":5.8,"lo":-180,"hi":-163},{"a":6.3,"b":6.7,"lo":-180,"hi":-168},{"a":7.1,"b":100,"lo":-180,"hi":-157},
{"a":0.05,"b":0.8,"lo":-78,"hi":-42},{"a":5.9,"b":6.8,"lo":-86,"hi":-38}
],
"c2":[
{"t":0.2,"c":175},{"t":1.2,"c":170},{"t":2.3,"c":167},{"t":3.5,"c":175},{"t":4.2,"c":170},{"t":4.8,"c":176},{"t":6.2,"c":166},{"t":6.6,"c":174},
{"t":8,"c":162},{"t":9.5,"c":158},{"t":11,"c":165},{"t":12.5,"c":160},{"t":14,"c":152},{"t":15.5,"c":163},{"t":17,"c":158},{"t":18.5,"c":166},{"t":20,"c":161},{"t":21.5,"c":156},{"t":23,"c":149},{"t":24.5,"c":163},{"t":26,"c":160},{"t":27.5,"c":165},{"t":29,"c":157},{"t":30.5,"c":162},{"t":32,"c":166},{"t":33.5,"c":159},{"t":35,"c":163},{"t":36.5,"c":155},{"t":38,"c":160},{"t":39.5,"c":143},{"t":40.5,"c":150},{"t":42,"c":164},{"t":43.5,"c":160},{"t":45,"c":157},{"t":46.5,"c":163},{"t":48,"c":152},{"t":49.5,"c":165},{"t":51,"c":160},{"t":52.5,"c":158},{"t":54,"c":163},{"t":55.5,"c":161},{"t":57,"c":166},{"t":58.5,"c":159},{"t":60,"c":162},{"t":61.5,"c":156},{"t":62.7,"c":150},{"t":64,"c":163},{"t":65.5,"c":160},{"t":67,"c":166},{"t":68.5,"c":158},{"t":70,"c":163},{"t":71.5,"c":161},{"t":73,"c":165},{"t":74.5,"c":155},{"t":76,"c":162},{"t":77.5,"c":159},{"t":79,"c":164},{"t":80.5,"c":160},{"t":82,"c":157},{"t":83.5,"c":163},{"t":85,"c":160},{"t":86.5,"c":166},{"t":88,"c":158},{"t":89.5,"c":162},{"t":91,"c":159},{"t":92.5,"c":164},{"t":94,"c":161},{"t":95.5,"c":156},{"t":97,"c":163},{"t":98.5,"c":158},{"t":99.5,"c":160},
{"t":7.8,"c":166},{"t":9,"c":163},{"t":10.2,"c":167},{"t":11.8,"c":161},{"t":13.2,"c":165},{"t":14.8,"c":162},{"t":16.2,"c":167},{"t":17.8,"c":163},{"t":19.2,"c":165},{"t":20.8,"c":160},{"t":22.2,"c":166},{"t":23.8,"c":162},{"t":25.2,"c":167},{"t":26.8,"c":163},{"t":28.2,"c":161},{"t":29.8,"c":166},{"t":31.2,"c":164},{"t":32.8,"c":161},{"t":34.2,"c":167},{"t":35.8,"c":163},{"t":37.2,"c":166},{"t":38.8,"c":162},{"t":40,"c":165},{"t":41.2,"c":160},{"t":42.8,"c":167},{"t":44.2,"c":163},{"t":45.8,"c":166},{"t":47.2,"c":161},{"t":48.8,"c":164},{"t":50.2,"c":167},{"t":51.8,"c":162},{"t":53.2,"c":166},{"t":54.8,"c":160},{"t":56.2,"c":165},{"t":57.8,"c":162},{"t":59.2,"c":167},{"t":60.8,"c":163},{"t":62.2,"c":165},{"t":63.5,"c":161},{"t":64.8,"c":167},{"t":66.2,"c":163},{"t":67.8,"c":161},{"t":69.2,"c":166},{"t":70.8,"c":163},{"t":72.2,"c":167},{"t":73.8,"c":161},{"t":75.2,"c":165},{"t":76.8,"c":163},{"t":78.2,"c":166},{"t":79.8,"c":161},{"t":81.2,"c":165},{"t":82.8,"c":167},{"t":84.2,"c":162},{"t":85.8,"c":165},{"t":87.2,"c":161},{"t":88.8,"c":166},{"t":90.2,"c":163},{"t":91.8,"c":167},{"t":93.2,"c":162},{"t":94.8,"c":166},{"t":96.2,"c":163},{"t":97.8,"c":167},{"t":99,"c":164},
{"t":0.1,"c":-38},{"t":0.4,"c":-85},{"t":0.7,"c":-92},{"t":0.3,"c":-95},{"t":0.5,"c":-100},{"t":0.6,"c":-110},
{"t":3.5,"c":-50},{"t":3.6,"c":-62},{"t":3.7,"c":-75},{"t":3.8,"c":-45},{"t":3.9,"c":-58},{"t":4,"c":-85},{"t":4.1,"c":-40},{"t":4.1,"c":-66},{"t":4.2,"c":-52},{"t":4.3,"c":-78},{"t":4.4,"c":-60},{"t":4.5,"c":-45},{"t":4.6,"c":-70},{"t":4.6,"c":-88},{"t":4.7,"c":-55},{"t":4.8,"c":-38},{"t":4.9,"c":-65},{"t":5,"c":-80},{"t":5,"c":-50},{"t":5.1,"c":-72},{"t":5.2,"c":-58},{"t":5.3,"c":-44},{"t":5.3,"c":-90},{"t":5.4,"c":-66},{"t":5.5,"c":-52},{"t":3.6,"c":-88},{"t":4.4,"c":-95},{"t":3.9,"c":-30},{"t":4.9,"c":-48},{"t":5.2,"c":-83},{"t":4.2,"c":-28},{"t":4.6,"c":-33},{"t":5.5,"c":-25},{"t":4,"c":-68},{"t":4.8,"c":-76},{"t":3.8,"c":-56},
{"t":3.8,"c":-95},{"t":4.2,"c":-100},{"t":4.7,"c":-100},{"t":4.9,"c":-105},{"t":5,"c":-112},{"t":5.2,"c":-120},{"t":5.1,"c":-130},{"t":5.4,"c":-140},{"t":6.2,"c":-95},{"t":6.4,"c":-92},{"t":6.1,"c":-32},{"t":2.5,"c":-150},{"t":3,"c":-145},{"t":1.2,"c":-150},
{"t":8,"c":-150},{"t":9.5,"c":-140},{"t":11,"c":-155},{"t":12.5,"c":-148},{"t":14,"c":-157},{"t":15.5,"c":-150},{"t":17,"c":-158},{"t":18.5,"c":-145},{"t":20,"c":-152},{"t":22,"c":-120},{"t":22,"c":-128},{"t":22.1,"c":-135},{"t":22.2,"c":-140},{"t":23.5,"c":-155},{"t":25,"c":-150},{"t":26.5,"c":-158},{"t":28,"c":-147},{"t":30,"c":-140},{"t":31.5,"c":-155},{"t":33,"c":-150},{"t":34.5,"c":-145},{"t":36,"c":-153},{"t":37.5,"c":-80},{"t":37.5,"c":-87},{"t":37.6,"c":-93},{"t":37.6,"c":-100},{"t":37.7,"c":-130},{"t":39,"c":-150},{"t":40.5,"c":-155},{"t":42,"c":-148},{"t":43.5,"c":-157},{"t":45,"c":-142},{"t":46.5,"c":-152},{"t":47.5,"c":-138},{"t":49,"c":-150},{"t":50.5,"c":-156},{"t":52,"c":-147},{"t":53.5,"c":-155},{"t":55,"c":-150},{"t":57,"c":-145},{"t":58.5,"c":-156},{"t":60,"c":-150},{"t":62,"c":-135},{"t":63.5,"c":-155},{"t":65,"c":-150},{"t":66.5,"c":-145},{"t":68,"c":-157},{"t":69,"c":-133},{"t":70.5,"c":-150},{"t":72,"c":-155},{"t":73.5,"c":-148},{"t":75,"c":-152},{"t":76.5,"c":-143},{"t":78,"c":-155},{"t":79.5,"c":-150},{"t":81,"c":-140},{"t":81.5,"c":-132},{"t":82.5,"c":-128},{"t":83,"c":-125},{"t":83.3,"c":-95},{"t":83.4,"c":-120},{"t":83.5,"c":-135},{"t":83.6,"c":-140},{"t":84,"c":-145},{"t":85.5,"c":-152},{"t":87,"c":-148},{"t":88.5,"c":-135},{"t":89,"c":-125},{"t":90,"c":-130},{"t":91.5,"c":-150},{"t":93,"c":-145},{"t":94.5,"c":-128},{"t":95,"c":-140},{"t":96.5,"c":-150},{"t":98,"c":-145},{"t":99.5,"c":-148},
{"t":7.5,"c":-152},{"t":8.8,"c":-147},{"t":10.2,"c":-156},{"t":11.8,"c":-143},{"t":13.2,"c":-151},{"t":14.8,"c":-146},{"t":16.2,"c":-154},{"t":17.8,"c":-141},{"t":19.2,"c":-149},{"t":20.8,"c":-155},{"t":21.3,"c":-144},{"t":23,"c":-150},{"t":24.2,"c":-141},{"t":25.8,"c":-153},{"t":27.2,"c":-149},{"t":28.8,"c":-156},{"t":29.5,"c":-145},{"t":31,"c":-150},{"t":32.2,"c":-157},{"t":33.8,"c":-143},{"t":35.2,"c":-151},{"t":36.8,"c":-147},{"t":38.5,"c":-154},{"t":39.8,"c":-144},{"t":41.2,"c":-151},{"t":42.8,"c":-146},{"t":44.2,"c":-155},{"t":45.8,"c":-149},{"t":47,"c":-153},{"t":48.5,"c":-145},{"t":49.8,"c":-152},{"t":51.2,"c":-144},{"t":52.8,"c":-150},{"t":54.2,"c":-157},{"t":55.8,"c":-142},{"t":57.8,"c":-151},{"t":59.2,"c":-146},{"t":60.8,"c":-154},{"t":62.8,"c":-148},{"t":64.2,"c":-141},{"t":65.8,"c":-155},{"t":67.2,"c":-149},{"t":68.8,"c":-152},{"t":70,"c":-144},{"t":71.2,"c":-156},{"t":72.8,"c":-146},{"t":74.2,"c":-153},{"t":75.8,"c":-147},{"t":77.2,"c":-151},{"t":78.8,"c":-143},{"t":80.2,"c":-155},{"t":81.8,"c":-149},{"t":84.8,"c":-150},{"t":86.2,"c":-144},{"t":87.8,"c":-156},{"t":89.8,"c":-146},{"t":90.8,"c":-152},{"t":92.2,"c":-140},{"t":93.8,"c":-151},{"t":95.8,"c":-146},{"t":97.2,"c":-153},{"t":98.8,"c":-141},{"t":99.8,"c":-152}
],
"b3":[
{"a":0,"b":6.2,"lo":168,"hi":180},{"a":7.2,"b":100,"lo":168,"hi":180},{"a":74,"b":75.3,"lo":162,"hi":180},
{"a":0,"b":6.3,"lo":-180,"hi":-158},{"a":7,"b":100,"lo":-180,"hi":-157},
{"a":6.3,"b":7.4,"lo":-88,"hi":-55}
],
"c3":[
{"t":1.7,"c":68},
{"t":0.5,"c":165},{"t":1.5,"c":160},{"t":3,"c":166},{"t":4.5,"c":162},{"t":5.5,"c":158},{"t":7.5,"c":163},{"t":9,"c":160},{"t":10.5,"c":166},{"t":12,"c":161},{"t":13.5,"c":157},{"t":15,"c":163},{"t":16.5,"c":160},{"t":18,"c":155},{"t":19.5,"c":164},{"t":21,"c":160},{"t":22.5,"c":166},{"t":24,"c":162},{"t":25.5,"c":158},{"t":27,"c":164},{"t":28.5,"c":161},{"t":30,"c":166},{"t":31.5,"c":159},{"t":33,"c":163},{"t":34.5,"c":160},{"t":36,"c":165},{"t":37.5,"c":158},{"t":39,"c":163},{"t":40.5,"c":161},{"t":42,"c":166},{"t":43.5,"c":159},{"t":45,"c":163},{"t":46.5,"c":160},{"t":47.8,"c":150},{"t":48,"c":155},{"t":48.3,"c":158},{"t":49.5,"c":163},{"t":51,"c":160},{"t":52.5,"c":165},{"t":54,"c":158},{"t":55.5,"c":162},{"t":57,"c":154},{"t":58.5,"c":163},{"t":60,"c":160},{"t":61.5,"c":166},{"t":63,"c":161},{"t":64.5,"c":158},{"t":66,"c":164},{"t":67.5,"c":160},{"t":69,"c":165},{"t":70.5,"c":159},{"t":72,"c":163},{"t":73.5,"c":160},{"t":74.3,"c":152},{"t":74.5,"c":157},{"t":76,"c":158},{"t":77.5,"c":163},{"t":79,"c":160},{"t":80.5,"c":165},{"t":82,"c":138},{"t":82.5,"c":158},{"t":84,"c":163},{"t":85.5,"c":160},{"t":87,"c":165},{"t":88.5,"c":159},{"t":90,"c":163},{"t":91.5,"c":160},{"t":93,"c":165},{"t":94.5,"c":147},{"t":95,"c":158},{"t":96.5,"c":163},{"t":98,"c":160},{"t":99.5,"c":165},
{"t":0.9,"c":166},{"t":2.2,"c":163},{"t":3.8,"c":167},{"t":5,"c":161},{"t":8.2,"c":166},{"t":9.8,"c":162},{"t":11.2,"c":167},{"t":12.8,"c":163},{"t":14.2,"c":165},{"t":15.8,"c":161},{"t":17.2,"c":166},{"t":18.8,"c":163},{"t":20.2,"c":167},{"t":21.8,"c":162},{"t":23.2,"c":165},{"t":24.8,"c":167},{"t":26.2,"c":162},{"t":27.8,"c":166},{"t":29.2,"c":163},{"t":30.8,"c":161},{"t":32.2,"c":167},{"t":33.8,"c":164},{"t":35.2,"c":162},{"t":36.8,"c":166},{"t":38.2,"c":161},{"t":39.8,"c":167},{"t":41.2,"c":163},{"t":42.8,"c":165},{"t":44.2,"c":162},{"t":45.8,"c":167},{"t":47.2,"c":163},{"t":48.8,"c":166},{"t":50.2,"c":161},{"t":51.8,"c":167},{"t":53.2,"c":163},{"t":54.8,"c":165},{"t":56.2,"c":161},{"t":57.8,"c":166},{"t":59.2,"c":163},{"t":60.8,"c":167},{"t":62.2,"c":162},{"t":63.8,"c":165},{"t":65.2,"c":161},{"t":66.8,"c":167},{"t":68.2,"c":163},{"t":69.8,"c":166},{"t":71.2,"c":162},{"t":72.8,"c":165},{"t":75.8,"c":161},{"t":77.2,"c":167},{"t":78.8,"c":163},{"t":80.2,"c":166},{"t":81.8,"c":162},{"t":83.2,"c":165},{"t":84.8,"c":167},{"t":86.2,"c":161},{"t":87.8,"c":166},{"t":89.2,"c":163},{"t":90.8,"c":167},{"t":92.2,"c":162},{"t":93.8,"c":166},{"t":95.5,"c":161},{"t":96.8,"c":167},{"t":98.2,"c":163},{"t":99.8,"c":166},
{"t":6.1,"c":-50},{"t":6.4,"c":-48},{"t":6.9,"c":-50},{"t":7.3,"c":-52},{"t":6.3,"c":-92},{"t":6.6,"c":-97},{"t":7,"c":-100},{"t":7.2,"c":-95},{"t":6.8,"c":-93},{"t":5.9,"c":-110},{"t":7.5,"c":-70},
{"t":15,"c":-88},{"t":25.9,"c":-60},{"t":25.9,"c":-72},{"t":25.9,"c":-77},{"t":26,"c":-80},{"t":54.5,"c":-52},{"t":54.5,"c":-57},{"t":54.5,"c":-63},{"t":54.6,"c":-68},{"t":54.5,"c":-72},{"t":54.6,"c":-76},{"t":54.5,"c":-80},{"t":3,"c":-127},{"t":10.5,"c":-122},{"t":29,"c":-125},{"t":19,"c":-132},{"t":12,"c":-135},
{"t":0.5,"c":-150},{"t":1.5,"c":-140},{"t":2.5,"c":-155},{"t":4,"c":-148},{"t":5,"c":-158},{"t":8,"c":-150},{"t":9.5,"c":-142},{"t":11,"c":-156},{"t":13,"c":-150},{"t":14.5,"c":-145},{"t":16,"c":-157},{"t":17.5,"c":-149},{"t":20,"c":-154},{"t":21.5,"c":-146},{"t":23,"c":-158},{"t":24.5,"c":-150},{"t":26.5,"c":-145},{"t":28,"c":-156},{"t":30,"c":-150},{"t":31.5,"c":-143},{"t":33,"c":-155},{"t":34.5,"c":-148},{"t":36,"c":-157},{"t":37.5,"c":-150},{"t":39,"c":-145},{"t":40.5,"c":-156},{"t":42,"c":-149},{"t":43.5,"c":-153},{"t":45,"c":-146},{"t":46.5,"c":-157},{"t":48,"c":-150},{"t":49,"c":-138},{"t":50.5,"c":-155},{"t":52,"c":-148},{"t":53.5,"c":-140},{"t":55,"c":-152},{"t":56.5,"c":-147},{"t":58,"c":-155},{"t":59.5,"c":-150},{"t":61,"c":-144},{"t":62.5,"c":-156},{"t":64,"c":-150},{"t":65.5,"c":-145},{"t":67,"c":-155},{"t":67.5,"c":-135},{"t":68.5,"c":-130},{"t":69,"c":-140},{"t":70,"c":-150},{"t":71.5,"c":-135},{"t":73,"c":-155},{"t":74.5,"c":-148},{"t":76,"c":-156},{"t":77.5,"c":-150},{"t":79,"c":-145},{"t":80.5,"c":-155},{"t":81.5,"c":-135},{"t":82.5,"c":-150},{"t":84,"c":-148},{"t":85.5,"c":-140},{"t":87,"c":-155},{"t":88.5,"c":-135},{"t":90,"c":-150},{"t":91.5,"c":-147},{"t":93,"c":-153},{"t":94.5,"c":-145},{"t":96,"c":-150},{"t":97.5,"c":-140},{"t":98.5,"c":-135},{"t":99.5,"c":-130},
{"t":0.9,"c":-152},{"t":2,"c":-146},{"t":3.5,"c":-154},{"t":4.6,"c":-143},{"t":7.8,"c":-155},{"t":8.8,"c":-146},{"t":10.2,"c":-151},{"t":11.8,"c":-144},{"t":13.8,"c":-156},{"t":15.2,"c":-149},{"t":16.8,"c":-143},{"t":18.2,"c":-153},{"t":19.5,"c":-147},{"t":21,"c":-156},{"t":22.2,"c":-142},{"t":23.8,"c":-151},{"t":25.2,"c":-155},{"t":27.2,"c":-148},{"t":28.8,"c":-143},{"t":30.8,"c":-154},{"t":32.2,"c":-149},{"t":33.8,"c":-145},{"t":35.2,"c":-152},{"t":36.8,"c":-144},{"t":38.2,"c":-156},{"t":39.8,"c":-150},{"t":41.2,"c":-143},{"t":42.8,"c":-155},{"t":44.2,"c":-148},{"t":45.8,"c":-152},{"t":47.2,"c":-145},{"t":48.8,"c":-155},{"t":50.2,"c":-147},{"t":51.8,"c":-142},{"t":53.2,"c":-153},{"t":54.8,"c":-146},{"t":56.2,"c":-156},{"t":57.8,"c":-149},{"t":59.2,"c":-144},{"t":60.8,"c":-152},{"t":62.2,"c":-147},{"t":63.8,"c":-155},{"t":65.2,"c":-150},{"t":66.8,"c":-143},{"t":68.2,"c":-152},{"t":69.8,"c":-146},{"t":71.2,"c":-155},{"t":72.8,"c":-149},{"t":74.2,"c":-144},{"t":75.8,"c":-153},{"t":77.2,"c":-147},{"t":78.8,"c":-156},{"t":80.2,"c":-150},{"t":81.8,"c":-143},{"t":83.2,"c":-154},{"t":84.8,"c":-145},{"t":86.2,"c":-152},{"t":87.8,"c":-148},{"t":89.2,"c":-155},{"t":90.8,"c":-142},{"t":92.2,"c":-150},{"t":93.8,"c":-156},{"t":95.2,"c":-146},{"t":96.8,"c":-153},{"t":98.2,"c":-147},{"t":99.6,"c":-144}
]
},
"columns":2,
"spacing":{"row":25,"column":102},
"bounds":"flush",
"resolve":{"scale":{"color":"independent"}},
"concat":[
{
 "width":513,"height":166,
 "view":{"stroke":"#9a9a9a"},
 "title":{"text":"Replicate 2","font":"Liberation Serif","fontSize":32,"fontWeight":"normal","color":"black","anchor":"middle","baseline":"alphabetic","offset":-28},
 "layer":[
  {"data":{"name":"ss2"},"mark":{"type":"rect"},
   "encoding":{
    "x":{"field":"a","type":"quantitative","scale":{"domain":[0,100],"nice":false,"zero":false},"axis":{"orient":"bottom","values":[0,12.5,25,37.5,50,62.5,75,87.5,100],"labels":false,"tickSize":4,"tickColor":"#9a9a9a","title":null}},
    "x2":{"field":"b"},
    "y":{"field":"r","type":"ordinal","scale":{"type":"band","domain":[27,26,25,24,23,22,21,20,19,18,17,16,15],"paddingInner":0,"paddingOuter":0},"axis":{"values":[16,17,18,19,20,21,22,23,24,25,26],"labelExpr":"datum.value % 2 === 0 ? datum.label : ''","labelAngle":0,"tickSize":4,"tickColor":"#9a9a9a","labelPadding":2,"title":"Residue","titlePadding":8}},
    "color":{"field":"s","type":"nominal","scale":{"domain":["C","E","B","S","T","H","I","G"],"range":["#ffffff","#ff0000","#000000","#008000","#ffff00","#0000ff","#800080","#808080"]},
      "legend":{"orient":"none","legendX":241,"legendY":193,"direction":"horizontal","title":null,"symbolType":"square","symbolSize":225,"symbolStrokeColor":"black","symbolStrokeWidth":1.5,"symbolOpacity":1,"labelFont":"Liberation Sans","labelFontSize":16,"labelColor":"black","labelOffset":4,"columnPadding":7,"padding":0,
      "labelExpr":"datum.label === 'C' ? 'Coil' : datum.label === 'E' ? 'β-Sheet' : datum.label === 'B' ? 'β-Bridge' : datum.label === 'S' ? 'Bend' : datum.label === 'T' ? 'Turn' : datum.label === 'H' ? 'α-Helix' : datum.label === 'I' ? 'π-Helix' : '3-Helix'"}}
   }},
  {"data":{"values":[{}]},"mark":{"type":"text","font":"Liberation Sans","fontSize":23,"align":"center","baseline":"middle","dy":1,"color":"black"},
   "encoding":{"x":{"datum":-11,"type":"quantitative","scale":{"domain":[0,100],"nice":false,"zero":false},"axis":null},"y":{"datum":26,"type":"ordinal","scale":{"type":"band","domain":[27,26,25,24,23,22,21,20,19,18,17,16,15],"paddingInner":0,"paddingOuter":0},"axis":null},"text":{"value":"A"}}}
 ]
},
{
 "width":517,"height":166,
 "view":{"stroke":"#9a9a9a"},
 "title":{"text":"Replicate 3","font":"Liberation Serif","fontSize":32,"fontWeight":"normal","color":"black","anchor":"middle","baseline":"alphabetic","offset":-28},
 "layer":[
  {"data":{"name":"ss3"},"mark":{"type":"rect"},
   "encoding":{
    "x":{"field":"a","type":"quantitative","scale":{"domain":[0,100],"nice":false,"zero":false},"axis":{"orient":"bottom","values":[0,12.5,25,37.5,50,62.5,75,87.5,100],"labels":false,"tickSize":4,"tickColor":"#9a9a9a","title":null}},
    "x2":{"field":"b"},
    "y":{"field":"r","type":"ordinal","scale":{"type":"band","domain":[27,26,25,24,23,22,21,20,19,18,17,16,15],"paddingInner":0,"paddingOuter":0},"axis":{"values":[16,17,18,19,20,21,22,23,24,25,26],"labelExpr":"datum.value % 2 === 0 ? datum.label : ''","labelAngle":0,"tickSize":4,"tickColor":"#9a9a9a","labelPadding":2,"title":"Residue","titlePadding":8}},
    "color":{"field":"s","type":"nominal","scale":{"domain":["C","E","B","S","T","H","I","G"],"range":["#ffffff","#ff0000","#000000","#008000","#ffff00","#0000ff","#800080","#808080"]},"legend":null}
   }},
  {"data":{"values":[{}]},"mark":{"type":"text","font":"Liberation Sans","fontSize":23,"align":"center","baseline":"middle","dy":1,"color":"black"},
   "encoding":{"x":{"datum":-10.5,"type":"quantitative","scale":{"domain":[0,100],"nice":false,"zero":false},"axis":null},"y":{"datum":26,"type":"ordinal","scale":{"type":"band","domain":[27,26,25,24,23,22,21,20,19,18,17,16,15],"paddingInner":0,"paddingOuter":0},"axis":null},"text":{"value":"B"}}}
 ]
},
{"width":513,"height":23,"view":{"stroke":null},"data":{"values":[]},"mark":"point"},
{"width":517,"height":23,"view":{"stroke":null},"data":{"values":[]},"mark":"point"},
{
 "width":513,"height":181,
 "resolve":{"axis":{"x":"independent","y":"independent"}},
 "layer":[
  {"data":{"name":"d2"},"mark":{"type":"line","strokeWidth":1.2},
   "encoding":{
    "x":{"field":"t","type":"quantitative","scale":{"domain":[0,100],"nice":false,"zero":false},"axis":{"orient":"bottom","values":[0,12.5,25,37.5,50,62.5,75,87.5,100],"labels":false,"tickSize":-6,"title":null}},
    "y":{"field":"v","type":"quantitative","scale":{"domain":[-6,6],"nice":false,"zero":false},"axis":{"orient":"left","values":[-6,-5,-4,-3,-2,-1,0,1,2,3,4,5,6],"labelExpr":"datum.value % 2 === 0 ? '' + datum.value : ''","tickSize":-6,"labelPadding":10,"title":"μₚₐᵣₐ (D)","titlePadding":6}},
    "color":{"field":"k","type":"nominal","scale":{"domain":["F","E"],"range":["#000000","#1fe01f"]},
      "legend":{"orient":"none","legendX":387,"legendY":23,"title":null,"strokeColor":"black","fillColor":"white","padding":7,"symbolType":"stroke","symbolSize":300,"symbolStrokeWidth":1.5,"labelFont":"Liberation Serif","labelFontSize":14,"labelColor":"black","labelOffset":12,"rowPadding":3,"labelExpr":"datum.label === 'F' ? 'F19-F20' : 'E22-N23'"}}
   }},
  {"data":{"name":"d2"},"mark":{"type":"point","opacity":0},
   "encoding":{
    "x":{"field":"t","type":"quantitative","scale":{"domain":[0,100],"nice":false,"zero":false},"axis":{"orient":"top","values":[0,12.5,25,37.5,50,62.5,75,87.5,100],"labels":false,"tickSize":-6,"title":null}},
    "y":{"field":"v","type":"quantitative","scale":{"domain":[-6,6],"nice":false,"zero":false},"axis":{"orient":"right","values":[-6,-5,-4,-3,-2,-1,0,1,2,3,4,5,6],"labels":false,"tickSize":-6,"title":null}}
   }},
  {"data":{"values":[{}]},"mark":{"type":"text","font":"Liberation Sans","fontSize":23,"align":"center","baseline":"middle","color":"black"},
   "encoding":{"x":{"datum":-11,"type":"quantitative","scale":{"domain":[0,100],"nice":false,"zero":false},"axis":null},"y":{"datum":6,"type":"quantitative","scale":{"domain":[-6,6],"nice":false,"zero":false},"axis":null},"text":{"value":"C"}}}
 ]
},
{
 "width":517,"height":181,
 "resolve":{"axis":{"x":"independent","y":"independent"}},
 "layer":[
  {"data":{"name":"d3"},"mark":{"type":"line","strokeWidth":1.2},
   "encoding":{
    "x":{"field":"t","type":"quantitative","scale":{"domain":[0,100],"nice":false,"zero":false},"axis":{"orient":"bottom","values":[0,12.5,25,37.5,50,62.5,75,87.5,100],"labels":false,"tickSize":-6,"title":null}},
    "y":{"field":"v","type":"quantitative","scale":{"domain":[-6,6],"nice":false,"zero":false},"axis":{"orient":"left","values":[-6,-5,-4,-3,-2,-1,0,1,2,3,4,5,6],"labelExpr":"datum.value % 2 === 0 ? '' + datum.value : ''","tickSize":-6,"labelPadding":10,"title":"μₚₐᵣₐ (D)","titlePadding":6}},
    "color":{"field":"k","type":"nominal","scale":{"domain":["F","E"],"range":["#000000","#1fe01f"]},
      "legend":{"orient":"none","legendX":388,"legendY":23,"title":null,"strokeColor":"black","fillColor":"white","padding":7,"symbolType":"stroke","symbolSize":300,"symbolStrokeWidth":1.5,"labelFont":"Liberation Serif","labelFontSize":14,"labelColor":"black","labelOffset":12,"rowPadding":3,"labelExpr":"datum.label === 'F' ? 'F19-F20' : 'E22-N23'"}}
   }},
  {"data":{"name":"d3"},"mark":{"type":"point","opacity":0},
   "encoding":{
    "x":{"field":"t","type":"quantitative","scale":{"domain":[0,100],"nice":false,"zero":false},"axis":{"orient":"top","values":[0,12.5,25,37.5,50,62.5,75,87.5,100],"labels":false,"tickSize":-6,"title":null}},
    "y":{"field":"v","type":"quantitative","scale":{"domain":[-6,6],"nice":false,"zero":false},"axis":{"orient":"right","values":[-6,-5,-4,-3,-2,-1,0,1,2,3,4,5,6],"labels":false,"tickSize":-6,"title":null}}
   }},
  {"data":{"values":[{}]},"mark":{"type":"text","font":"Liberation Sans","fontSize":23,"align":"center","baseline":"middle","color":"black"},
   "encoding":{"x":{"datum":-10.5,"type":"quantitative","scale":{"domain":[0,100],"nice":false,"zero":false},"axis":null},"y":{"datum":6,"type":"quantitative","scale":{"domain":[-6,6],"nice":false,"zero":false},"axis":null},"text":{"value":"D"}}}
 ]
},
{
 "width":513,"height":181,
 "resolve":{"axis":{"x":"independent","y":"independent"}},
 "layer":[
  {"data":{"name":"b2"},"mark":{"type":"rect","color":"black"},
   "encoding":{
    "x":{"field":"a","type":"quantitative","scale":{"domain":[0,100],"nice":false,"zero":false},"axis":{"orient":"bottom","values":[0,12.5,25,37.5,50,62.5,75,87.5,100],"labelExpr":"datum.value % 25 === 0 ? '' + datum.value : ''","tickSize":-6,"labelPadding":6,"title":"Time (ns)","titlePadding":0}},
    "x2":{"field":"b"},
    "y":{"field":"lo","type":"quantitative","scale":{"domain":[-180,180],"nice":false,"zero":false},"axis":{"orient":"left","values":[-180,-150,-120,-90,-60,-30,0,30,60,90,120,150,180],"labelExpr":"datum.value % 60 === 0 ? '' + datum.value : ''","tickSize":-6,"labelPadding":10,"title":"Asn23 χ₁ (degrees)","titlePadding":5}},
    "y2":{"field":"hi"}
   }},
  {"data":{"name":"c2"},"mark":{"type":"point","filled":true,"size":8,"color":"black","opacity":1},
   "encoding":{
    "x":{"field":"t","type":"quantitative","scale":{"domain":[0,100],"nice":false,"zero":false},"axis":{"orient":"top","values":[0,12.5,25,37.5,50,62.5,75,87.5,100],"labels":false,"tickSize":-6,"title":null}},
    "y":{"field":"c","type":"quantitative","scale":{"domain":[-180,180],"nice":false,"zero":false},"axis":{"orient":"right","values":[-180,-150,-120,-90,-60,-30,0,30,60,90,120,150,180],"labels":false,"tickSize":-6,"title":null}}
   }},
  {"data":{"values":[{}]},"mark":{"type":"text","font":"Liberation Sans","fontSize":23,"align":"center","baseline":"middle","color":"black"},
   "encoding":{"x":{"datum":-11,"type":"quantitative","scale":{"domain":[0,100],"nice":false,"zero":false},"axis":null},"y":{"datum":180,"type":"quantitative","scale":{"domain":[-180,180],"nice":false,"zero":false},"axis":null},"text":{"value":"E"}}}
 ]
},
{
 "width":517,"height":181,
 "resolve":{"axis":{"x":"independent","y":"independent"}},
 "layer":[
  {"data":{"name":"b3"},"mark":{"type":"rect","color":"black"},
   "encoding":{
    "x":{"field":"a","type":"quantitative","scale":{"domain":[0,100],"nice":false,"zero":false},"axis":{"orient":"bottom","values":[0,12.5,25,37.5,50,62.5,75,87.5,100],"labelExpr":"datum.value % 25 === 0 ? '' + datum.value : ''","tickSize":-6,"labelPadding":6,"title":"Time (ns)","titlePadding":0}},
    "x2":{"field":"b"},
    "y":{"field":"lo","type":"quantitative","scale":{"domain":[-180,180],"nice":false,"zero":false},"axis":{"orient":"left","values":[-180,-150,-120,-90,-60,-30,0,30,60,90,120,150,180],"labelExpr":"datum.value % 60 === 0 ? '' + datum.value : ''","tickSize":-6,"labelPadding":10,"title":"Asn23 χ₁ (degrees)","titlePadding":5}},
    "y2":{"field":"hi"}
   }},
  {"data":{"name":"c3"},"mark":{"type":"point","filled":true,"size":8,"color":"black","opacity":1},
   "encoding":{
    "x":{"field":"t","type":"quantitative","scale":{"domain":[0,100],"nice":false,"zero":false},"axis":{"orient":"top","values":[0,12.5,25,37.5,50,62.5,75,87.5,100],"labels":false,"tickSize":-6,"title":null}},
    "y":{"field":"c","type":"quantitative","scale":{"domain":[-180,180],"nice":false,"zero":false},"axis":{"orient":"right","values":[-180,-150,-120,-90,-60,-30,0,30,60,90,120,150,180],"labels":false,"tickSize":-6,"title":null}}
   }},
  {"data":{"values":[{}]},"mark":{"type":"text","font":"Liberation Sans","fontSize":23,"align":"center","baseline":"middle","color":"black"},
   "encoding":{"x":{"datum":-10.5,"type":"quantitative","scale":{"domain":[0,100],"nice":false,"zero":false},"axis":null},"y":{"datum":180,"type":"quantitative","scale":{"domain":[-180,180],"nice":false,"zero":false},"axis":null},"text":{"value":"F"}}}
 ]
}
]
}
